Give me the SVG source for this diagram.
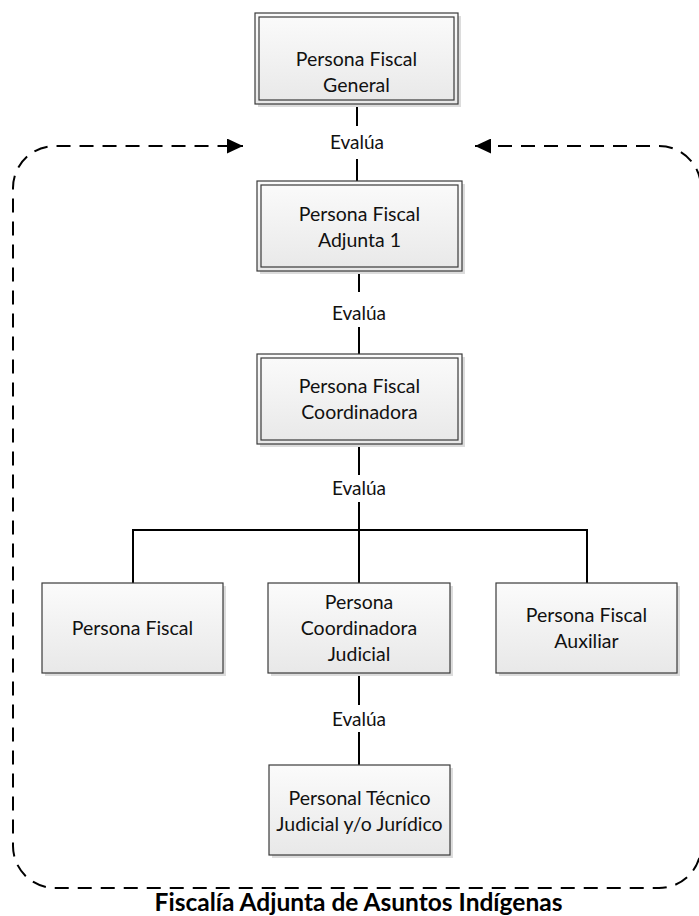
<svg xmlns="http://www.w3.org/2000/svg" width="699" height="916" viewBox="0 0 699 916">
<style>
.box{fill:url(#g);stroke:#3a3a3a;stroke-width:1.2}
.inner{fill:none;stroke:#3a3a3a;stroke-width:1.2}
.sh{fill:#dcdcdc}
.t{font-family:Lato,"Liberation Sans",sans-serif;font-size:19.5px;fill:#111;text-anchor:middle}
.lbl{font-family:Lato,"Liberation Sans",sans-serif;font-size:19px;fill:#111;text-anchor:middle}
.c{stroke:#000;stroke-width:2;fill:none}
.dash{stroke:#000;stroke-width:2;fill:none;stroke-dasharray:14 9}
.title{font-family:Lato,"Liberation Sans",sans-serif;font-size:24.5px;font-weight:bold;fill:#000;text-anchor:middle}
</style>
<defs>
<linearGradient id="g" x1="0" y1="0" x2="0" y2="1">
<stop offset="0" stop-color="#fbfbfb"/>
<stop offset="1" stop-color="#e8e8e8"/>
</linearGradient>
<marker id="arr" markerWidth="16" markerHeight="15" refX="16" refY="7.5" orient="auto-start-reverse" markerUnits="userSpaceOnUse">
<path d="M0,0 L16,7.5 L0,15 z" fill="#000"/>
</marker>
</defs>
<rect width="699" height="916" fill="#fff"/>

<g id="connectors">
<path class="dash" d="M 475 146 H 659 A 42 42 0 0 1 701 188 V 846 A 42 42 0 0 1 659 888 H 55 A 42 42 0 0 1 13 846 V 188 A 42 42 0 0 1 55 146 H 243" marker-start="url(#arr)" marker-end="url(#arr)"/>
<line class="c" x1="357" y1="104" x2="357" y2="126"/>
<line class="c" x1="357" y1="159" x2="357" y2="181"/>
<text class="lbl" x="357" y="149">Evalúa</text>
<line class="c" x1="359" y1="271" x2="359" y2="292"/>
<line class="c" x1="359" y1="327" x2="359" y2="354"/>
<text class="lbl" x="359" y="320">Evalúa</text>
<line class="c" x1="359" y1="444" x2="359" y2="475"/>
<line class="c" x1="359" y1="502" x2="359" y2="583"/>
<text class="lbl" x="359" y="495">Evalúa</text>
<polyline class="c" points="133,583 133,530 587,530 587,583"/>
<line class="c" x1="359" y1="673" x2="359" y2="705"/>
<line class="c" x1="359" y1="732" x2="359" y2="765"/>
<text class="lbl" x="359" y="726">Evalúa</text>
</g>

<g id="n-general">
<rect class="sh" x="258" y="16" width="203" height="91"/>
<rect class="box" x="255" y="13" width="203" height="91"/>
<rect class="inner" x="259" y="17" width="195" height="83"/>
<text class="t" x="356.5" y="66">Persona Fiscal</text>
<text class="t" x="356.5" y="92">General</text>
</g>

<g id="n-adjunta">
<rect class="sh" x="260" y="184" width="205" height="90"/>
<rect class="box" x="257" y="181" width="205" height="90"/>
<rect class="inner" x="261" y="185" width="197" height="82"/>
<text class="t" x="359.5" y="221">Persona Fiscal</text>
<text class="t" x="359.5" y="247">Adjunta 1</text>
</g>

<g id="n-coordinadora">
<rect class="sh" x="260" y="357" width="205" height="90"/>
<rect class="box" x="257" y="354" width="205" height="90"/>
<rect class="inner" x="261" y="358" width="197" height="82"/>
<text class="t" x="359.5" y="393">Persona Fiscal</text>
<text class="t" x="359.5" y="419">Coordinadora</text>
</g>

<g id="n-fiscal">
<rect class="sh" x="45" y="586" width="181" height="90"/>
<rect class="box" x="42" y="583" width="181" height="90"/>
<text class="t" x="132.5" y="635">Persona Fiscal</text>
</g>

<g id="n-coordjudicial">
<rect class="sh" x="271" y="586" width="182" height="90"/>
<rect class="box" x="268" y="583" width="182" height="90"/>
<text class="t" x="359" y="609">Persona</text>
<text class="t" x="359" y="635">Coordinadora</text>
<text class="t" x="359" y="661">Judicial</text>
</g>

<g id="n-auxiliar">
<rect class="sh" x="499" y="586" width="181" height="90"/>
<rect class="box" x="496" y="583" width="181" height="90"/>
<text class="t" x="586.5" y="622">Persona Fiscal</text>
<text class="t" x="586.5" y="648">Auxiliar</text>
</g>

<g id="n-tecnico">
<rect class="sh" x="272" y="768" width="181" height="90"/>
<rect class="box" x="269" y="765" width="181" height="90"/>
<text class="t" x="359.5" y="805">Personal Técnico</text>
<text class="t" x="359.5" y="831">Judicial y/o Jurídico</text>
</g>

<text class="title" x="358.5" y="911">Fiscalía Adjunta de Asuntos Indígenas</text>
</svg>
